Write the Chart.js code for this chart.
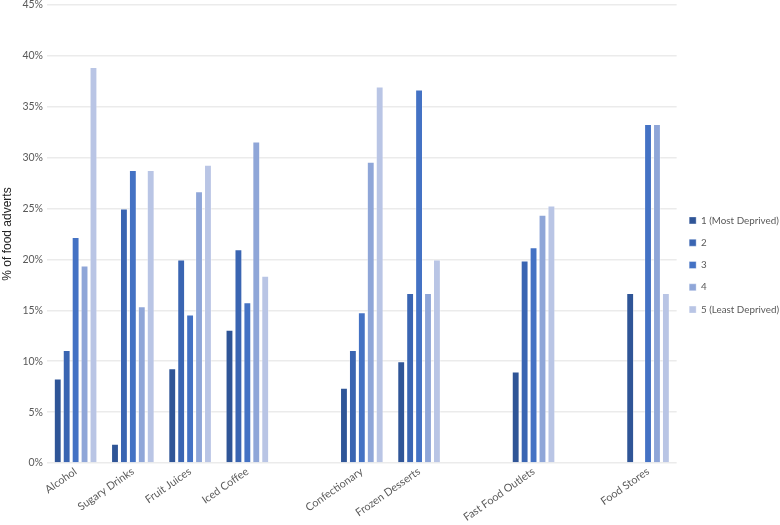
<!DOCTYPE html>
<html>
<head>
<meta charset="utf-8">
<script src="https://cdn.jsdelivr.net/npm/chart.js@4"></script>
<style>
  body { margin: 0; background: #fff; }
</style>
</head>
<body>
<canvas id="mycanvas" width="780" height="525"></canvas>
<script>
var categories = ['Alcohol', 'Sugary Drinks', 'Fruit Juices', 'Iced Coffee', '', 'Confectionary', 'Frozen Desserts', '', 'Fast Food Outlets', '', 'Food Stores'];
var q1 = [8.3, 1.9, 9.3, 13.1, null, 7.4, 10.0, null, 9.0, null, 16.7];
var q2 = [11.1, 25.0, 20.0, 21.0, null, 11.1, 16.7, null, 19.9, null, null];
var q3 = [22.2, 28.8, 14.6, 15.8, null, 14.8, 36.7, null, 21.2, null, 33.3];
var q4 = [19.4, 15.4, 26.7, 31.6, null, 29.6, 16.7, null, 24.4, null, 33.3];
var q5 = [38.9, 28.8, 29.3, 18.4, null, 37.0, 20.0, null, 25.3, null, 16.7];
var seriesNames = ['1 (Most Deprived)', '2', '3', '4', '5 (Least Deprived)'];
var seriesColors = ['#2F5597', '#3A65B2', '#4472C4', '#8FA6D8', '#B9C5E5'];

var allSeries = [q1, q2, q3, q4, q5];
var datasets = [];
for (var i in allSeries) {
	datasets.push({
		label: seriesNames[i],
		backgroundColor: seriesColors[i],
		borderColor: 'rgba(255,255,255,0.35)',
		borderWidth: 1,
		data: allSeries[i],
		categoryPercentage: 0.78,
		barPercentage: 0.88
	});
}

var ctx = document.getElementById('mycanvas');
var barGraph = new Chart(ctx, {
	type: 'bar',
	data: { labels: categories, datasets: datasets },
	options: {
		responsive: false,
		animation: false,
		layout: { padding: { top: 5, right: -9, left: 0, bottom: 0 } },
		plugins: {
			tooltip: { enabled: false },
			legend: {
				position: 'right',
				labels: {
					boxWidth: 7,
					boxHeight: 7,
					padding: 12.5,
					color: '#595959',
					font: { family: 'Lato', size: 9.8 }
				}
			}
		},
		scales: {
			x: {
				grid: { display: false },
				border: { display: false },
				afterFit: function(scale) { scale.height = 62; },
				ticks: {
					color: '#595959',
					font: { family: 'Lato', size: 10.8 },
					minRotation: 35,
					maxRotation: 35,
					autoSkip: false,
					padding: -6
				}
			},
			y: {
				min: 0,
				max: 45,
				border: { display: false },
				grid: { color: '#EBEBEB', lineWidth: 1.5, drawTicks: false },
				afterFit: function(scale) { scale.paddingTop = 0; },
				ticks: {
					stepSize: 5,
					padding: 4,
					color: '#595959',
					font: { family: 'Lato', size: 10.5 },
					callback: function(v) { return v + '%'; }
				},
				title: {
					display: true,
					text: '% of food adverts',
					color: '#222',
					padding: { top: 0, bottom: 4 },
					font: { family: 'Liberation Sans', size: 12 }
				}
			}
		}
	}
});
</script>
</body>
</html>
